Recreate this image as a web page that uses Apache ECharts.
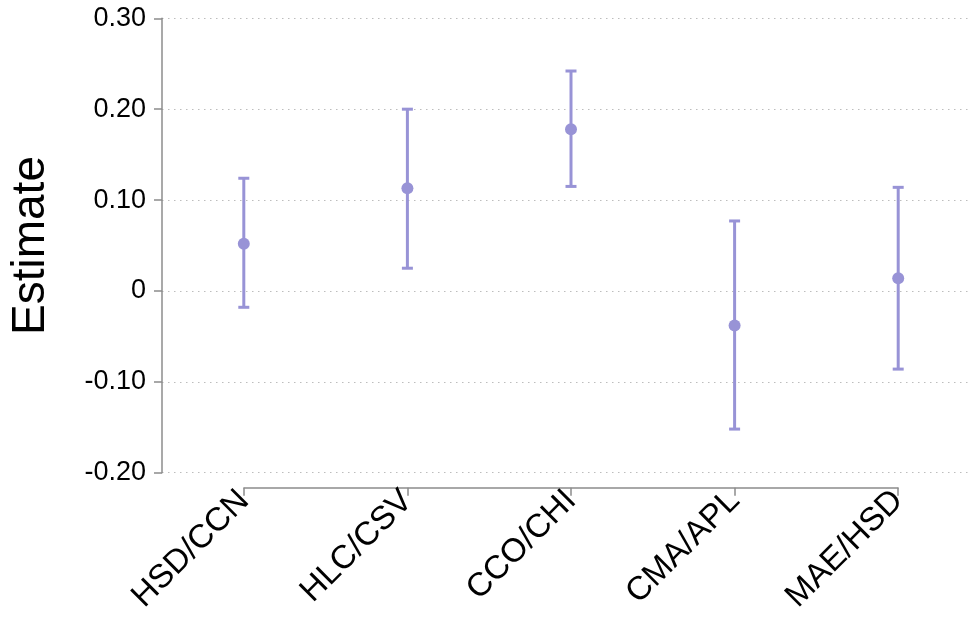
<!DOCTYPE html>
<html>
<head>
<meta charset="utf-8">
<script src="https://cdn.jsdelivr.net/npm/echarts@6/dist/echarts.min.js"></script>
<style>
html,body{margin:0;padding:0;background:#fff;}
#chart{width:969px;height:621px;}
</style>
</head>
<body>
<div id="chart"></div>
<script>
var categories = ['HSD/CCN', 'HLC/CSV', 'CCO/CHI', 'CMA/APL', 'MAE/HSD'];
var estimates = [0.052, 0.113, 0.178, -0.038, 0.014];
var lowerCI = [-0.018, 0.025, 0.115, -0.152, -0.086];
var upperCI = [0.124, 0.200, 0.242, 0.077, 0.114];
var yTicks = [-0.2, -0.1, 0, 0.1, 0.2, 0.3];

var COLOR = '#9893d6';
var FONT = 'Liberation Sans, Arial, sans-serif';

var errData = categories.map(function (c, i) { return [i, lowerCI[i], upperCI[i]]; });
var ptData = categories.map(function (c, i) { return [i, estimates[i]]; });

var chart = echarts.init(document.getElementById('chart'), null, {renderer: 'canvas'});
chart.setOption({
  animation: false,
  backgroundColor: '#fff',
  grid: [
    {left: 162, top: 18.3, width: 818, height: 454.4, containLabel: false, outerBoundsMode: 'none'},
    {left: 244, top: 486.7, width: 654, height: 1, containLabel: false, outerBoundsMode: 'none'}
  ],
  xAxis: [
    {type: 'category', gridIndex: 0, data: categories, boundaryGap: true,
      axisLine: {show: false}, axisTick: {show: false}, axisLabel: {show: false}, splitLine: {show: false}},
    {type: 'category', gridIndex: 1, data: categories, boundaryGap: false, position: 'bottom',
      axisLine: {show: true, lineStyle: {color: '#8c8c8c', width: 1.5}},
      axisTick: {show: true, length: 8, alignWithLabel: true, lineStyle: {color: '#8c8c8c', width: 1.5}},
      axisLabel: {rotate: 45, margin: 8, fontSize: 33, color: '#000', fontFamily: FONT, interval: 0},
      splitLine: {show: false}}
  ],
  yAxis: [
    {type: 'value', gridIndex: 0, min: -0.2, max: 0.3, interval: 0.1,
      name: 'Estimate', nameLocation: 'middle', nameGap: 108, nameRotate: 90,
      nameTextStyle: {fontSize: 46, color: '#000', fontFamily: FONT},
      axisLine: {show: true, lineStyle: {color: '#8c8c8c', width: 1.5}},
      axisTick: {show: true, length: 8, lineStyle: {color: '#8c8c8c', width: 1.5}},
      axisLabel: {margin: 16, fontSize: 27, color: '#000', fontFamily: FONT,
        formatter: function (v) { return Math.abs(v) < 1e-9 ? '0' : v.toFixed(2); }},
      splitLine: {show: true, lineStyle: {color: '#bdbdbd', type: [1.5, 4.5], width: 1}}},
    {type: 'value', gridIndex: 1, show: false}
  ],
  series: [
    {
      type: 'custom', xAxisIndex: 0, yAxisIndex: 0, data: errData,
      renderItem: function (params, api) {
        var x = api.value(0);
        var lo = api.coord([x, api.value(1)]);
        var hi = api.coord([x, api.value(2)]);
        var hw = 5.5;
        var st = {stroke: COLOR, lineWidth: 3, fill: null};
        return {type: 'group', children: [
          {type: 'line', shape: {x1: lo[0], y1: lo[1], x2: hi[0], y2: hi[1]}, style: st},
          {type: 'line', shape: {x1: lo[0] - hw, y1: lo[1], x2: lo[0] + hw, y2: lo[1]}, style: st},
          {type: 'line', shape: {x1: hi[0] - hw, y1: hi[1], x2: hi[0] + hw, y2: hi[1]}, style: st}
        ]};
      },
      z: 2
    },
    {
      type: 'scatter', xAxisIndex: 0, yAxisIndex: 0, data: ptData,
      symbol: 'circle', symbolSize: 12, itemStyle: {color: COLOR, opacity: 1}, z: 3
    }
  ]
});
</script>
</body>
</html>
